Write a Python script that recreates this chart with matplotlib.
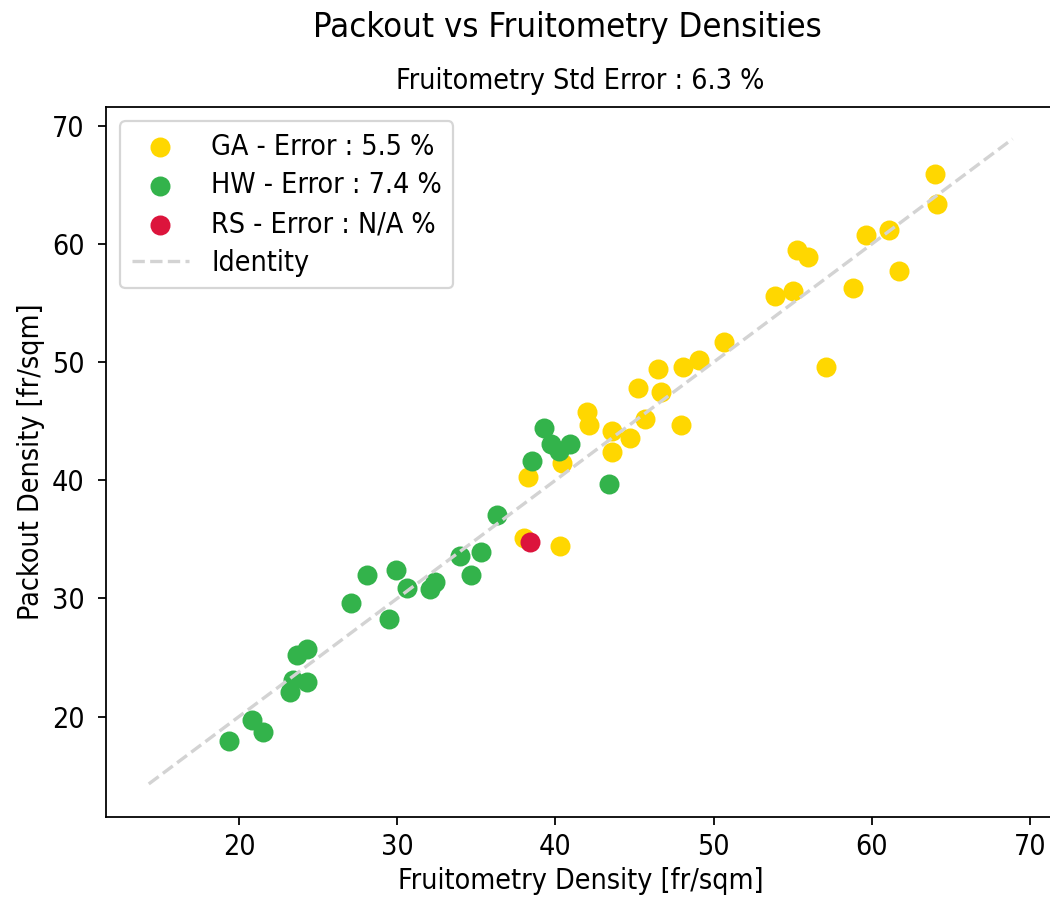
import matplotlib
matplotlib.use("Agg")
import matplotlib.pyplot as plt

# fruitometry (x) vs packout (y) densities per site
ga_x = [38.0, 40.3, 38.3, 40.4, 43.6, 44.7, 43.6, 42.1, 42.0, 45.65, 47.95, 46.7, 45.2, 46.5,
        48.1, 49.1, 50.65, 57.1, 53.9, 55.0, 55.3, 56.0, 58.8, 59.65, 61.1, 61.7, 64.0, 64.1]
ga_y = [35.1, 34.4, 40.3, 41.5, 42.4, 43.6, 44.2, 44.7, 45.8, 45.2, 44.7, 47.5, 47.8, 49.45,
        49.6, 50.2, 51.7, 49.6, 55.6, 56.0, 59.5, 58.9, 56.25, 60.8, 61.2, 57.7, 65.9, 63.4]
hw_x = [36.3, 35.3, 34.0, 34.7, 32.4, 32.1, 30.6, 29.9, 28.1, 27.1, 29.5, 24.3, 23.7, 24.3,
        23.4, 23.2, 20.8, 21.5, 19.4, 39.3, 39.7, 40.2, 40.9, 38.5, 43.4]
hw_y = [37.1, 33.9, 33.6, 32.0, 31.4, 30.8, 30.9, 32.4, 32.0, 29.6, 28.3, 25.7, 25.2, 22.9,
        23.1, 22.1, 19.7, 18.7, 17.9, 44.4, 43.1, 42.5, 43.1, 41.6, 39.7]
rs_x = [38.4]
rs_y = [34.8]
identity = [14.3, 68.9]

plt.rcParams["font.family"] = "DejaVu Sans"
plt.rcParams["font.stretch"] = "condensed"
plt.rcParams["font.size"] = 12.8

fig = plt.figure(figsize=(1050 / 160, 898 / 160), dpi=160)
ax = fig.add_axes([0.101, 0.0902, 0.904, 0.7906])

ax.scatter(ga_x, ga_y, s=64, color="#ffd700", label="GA - Error : 5.5 %")
ax.scatter(hw_x, hw_y, s=64, color="#33b34b", label="HW - Error : 7.4 %")
ax.scatter(rs_x, rs_y, s=64, color="#dc143c", label="RS - Error : N/A %")
ax.plot(identity, identity, "--", color="lightgray", lw=1.5, label="Identity")

ax.set_xlim(11.6, 71.6)
ax.set_ylim(11.5, 71.6)
ax.tick_params(length=3.6)
ax.tick_params(axis="y", pad=6)
ax.set_xlabel("Fruitometry Density [fr/sqm]", labelpad=3)
ax.set_ylabel("Packout Density [fr/sqm]", labelpad=3)
ax.set_title("Fruitometry Std Error : 6.3 %", fontsize=12.8, pad=8)
fig.suptitle("Packout vs Fruitometry Densities", x=0.54, y=0.988, fontsize=15.5)
ax.legend(loc="upper left", labelspacing=0.38)

fig.savefig("out.png", dpi=160)
